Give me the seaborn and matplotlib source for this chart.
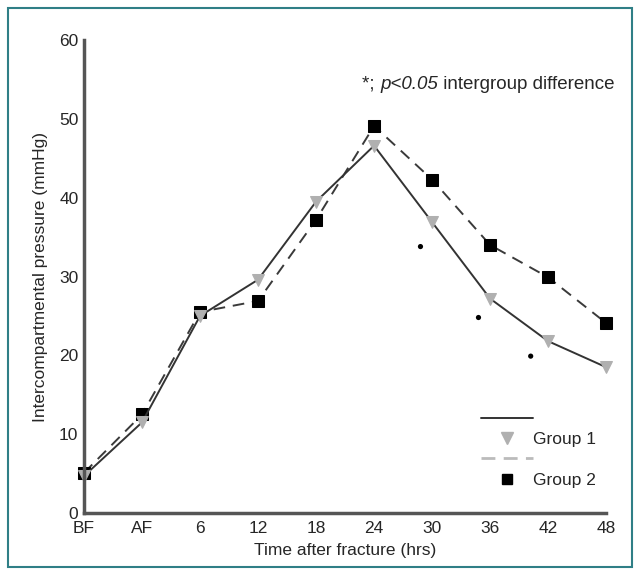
import numpy as np
import pandas as pd
import matplotlib
matplotlib.use("Agg")
import matplotlib.pyplot as plt
from matplotlib.lines import Line2D
from matplotlib.patches import Rectangle
import seaborn as sns

# dados
time_labels = ['BF', 'AF', '6', '12', '18', '24', '30', '36', '42', '48']
group1 = [4.7, 11.5, 25.0, 29.6, 39.5, 46.6, 36.9, 27.2, 21.8, 18.5]
group2 = [5.1, 12.5, 25.5, 26.9, 37.2, 49.1, 42.3, 34.0, 29.9, 24.1]
# asteriscos (p<0.05)
star_x = [5.8, 6.8, 7.7]
star_y = [33.8, 24.8, 19.9]

pos = np.arange(len(time_labels))
df = pd.DataFrame({'pos': pos, 'g1': group1, 'g2': group2})
stars = pd.DataFrame({'x': star_x, 'y': star_y})

sns.set_style("white")
plt.rcParams['font.family'] = ['Liberation Sans', 'DejaVu Sans']

fig = plt.figure(figsize=(6.38, 5.75), dpi=100)
ax = fig.add_axes([0.1317, 0.1078, 0.950 - 0.1317, 0.9304 - 0.1078])

sns.lineplot(data=df, x='pos', y='g2', ax=ax, color='#3a3a3a', linewidth=1.4,
             linestyle=(0, (6, 4)), marker='s', markersize=8,
             markerfacecolor='black', markeredgecolor='black', clip_on=False)
sns.lineplot(data=df, x='pos', y='g1', ax=ax, color='#333333', linewidth=1.4,
             marker='v', markersize=9, clip_on=False,
             markerfacecolor='#b0b0b0', markeredgecolor='#b0b0b0')
sns.scatterplot(data=stars, x='x', y='y', ax=ax, color='black', s=14,
                edgecolor='none')

ax.set_xlim(0, 9)
ax.set_ylim(0, 60)
ax.set_xticks(pos)
ax.set_xticklabels(time_labels)
ax.set_yticks(np.arange(0, 61, 10))
ax.tick_params(axis='both', direction='out', length=3, width=3, color='black',
               labelsize=12.5, pad=1)
ax.tick_params(axis='x', pad=3)
for s in ['top', 'right']:
    ax.spines[s].set_visible(False)
for s in ['left', 'bottom']:
    ax.spines[s].set_color('#555555')
    ax.spines[s].set_linewidth(2.5)

ax.set_xlabel('Time after fracture (hrs)', fontsize=12.5, labelpad=5)
ax.set_ylabel('Intercompartmental pressure (mmHg)', fontsize=12.5, labelpad=8)

t1 = ax.text(4.8, 53.8, '*; ', fontsize=13.5, va='baseline', ha='left')
t2 = ax.annotate('p<0.05', xy=(1, 0), xycoords=t1, va='bottom', ha='left',
                 fontsize=13.5, style='italic')
ax.annotate(' intergroup difference', xy=(1, 0), xycoords=t2, va='bottom',
            ha='left', fontsize=13.5)

handles = [
    Line2D([], [], color='#333333', linewidth=1.4),
    Line2D([], [], linestyle='none', marker='v', markersize=9,
           markerfacecolor='#b0b0b0', markeredgecolor='#b0b0b0'),
    Line2D([], [], color='#bbbbbb', linewidth=2, linestyle=(0, (5, 3))),
    Line2D([], [], linestyle='none', marker='s', markersize=7,
           markerfacecolor='black', markeredgecolor='black'),
]
ax.legend(handles, ['', 'Group 1', '', 'Group 2'], loc='lower right',
          bbox_to_anchor=(1.01, 0.02), frameon=False, fontsize=12.5,
          handlelength=3.0, handletextpad=0.0, labelspacing=0.3)

fig.patches.append(Rectangle((8 / 638, 8 / 575), 624 / 638, 559 / 575,
                             transform=fig.transFigure, fill=False,
                             edgecolor='#2f7f86', linewidth=1.5))

fig.savefig('out.png', dpi=100)
